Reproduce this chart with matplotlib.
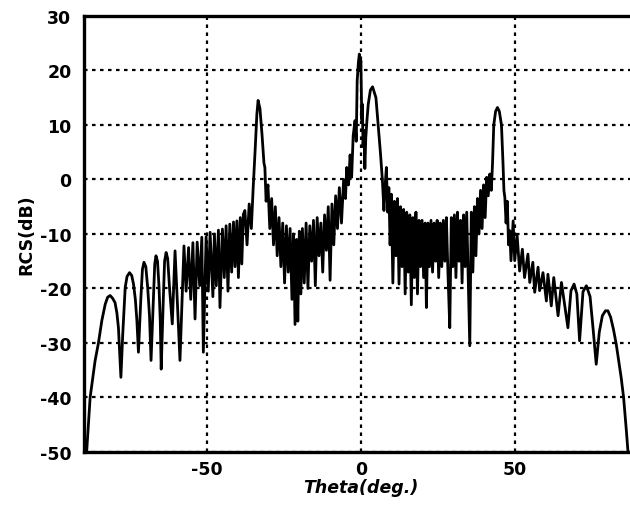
import numpy as np
import matplotlib
matplotlib.use("Agg")
import matplotlib.pyplot as plt

# values (theta in deg, RCS in dB)
# left tail: smooth lobes from -90 to -60
theta_left_tail = [-89.1, -88.5, -88.0, -86.4, -85.3, -84.2, -83.1, -82.3, -81.5, -80.7,
                   -79.9, -79.3, -78.8, -78.0, -77.4, -76.6, -76.0, -75.2, -74.5, -73.9,
                   -73.3, -72.8, -72.3, -71.5, -71.0, -70.5, -69.9, -69.3, -68.7, -68.2,
                   -67.4, -67.0, -66.6, -66.1, -65.6, -65.2, -64.9, -64.2, -63.8, -63.3,
                   -62.8, -62.2, -61.3, -60.4]
rcs_left_tail = [-49.7, -44.3, -40.0, -33.3, -30.0, -25.9, -22.9, -21.6, -21.3, -21.8,
                 -22.6, -24.5, -27.2, -36.3, -28.4, -19.8, -17.8, -17.1, -17.6, -19.2,
                 -22.0, -25.9, -31.7, -21.7, -16.5, -15.2, -16.0, -19.8, -25.0, -33.2,
                 -21.7, -15.5, -14.0, -15.0, -19.8, -26.0, -34.8, -21.7, -15.0, -13.4,
                 -14.5, -19.8, -26.5, -13.1]

# left band: denser lobes from -60 to -38
theta_left_band = [-58.8, -57.5, -56.8, -56.0, -55.3, -54.6, -53.9, -53.2, -52.4, -51.7,
                   -51.2, -50.3, -49.6, -49.0, -48.1, -47.6, -47.0, -46.3, -45.8, -45.0,
                   -44.4, -43.8, -43.2, -42.6, -42.0, -41.4, -40.9, -40.3, -39.8, -39.2,
                   -38.7, -38.2]
rcs_left_band = [-33.2, -12.2, -20.5, -12.5, -22.0, -11.6, -25.6, -11.5, -19.5, -10.6,
                 -31.7, -10.5, -20.5, -9.7, -21.5, -10.0, -19.5, -9.3, -23.5, -9.1,
                 -18.0, -8.5, -20.5, -8.2, -17.0, -7.8, -16.0, -7.6, -18.0, -7.0,
                 -15.5, -6.4]

# sidelobe near -33 deg
theta_lobe_m33 = [-37.7, -37.0, -36.3, -35.6, -35.0, -34.4, -33.8, -33.4, -32.8, -32.1,
                  -31.5, -31.2, -30.8, -30.2, -29.6, -29.0, -28.4, -27.8]
rcs_lobe_m33 = [-5.7, -12.0, -4.5, -9.0, -1.5, 5.0, 12.0, 14.5, 13.0, 8.0,
                3.0, 2.2, -4.0, -1.0, -9.0, -3.5, -12.0, -5.0]

# noisy region between -27 and -7 deg
theta_mid_left = [-27.2, -26.6, -26.0, -25.4, -24.8, -24.2, -23.6, -23.0, -22.4, -21.9,
                  -21.4, -20.9, -20.5, -20.0, -19.5, -19.0, -18.4, -17.8, -17.2, -16.6,
                  -16.0, -15.4, -14.8, -14.2, -13.6, -13.0, -12.4, -11.8, -11.2, -10.6,
                  -10.0, -9.4, -8.8, -8.2, -7.6]
rcs_mid_left = [-14.0, -7.0, -16.0, -8.0, -19.0, -8.5, -17.0, -9.0, -22.0, -10.0,
                -26.6, -11.0, -26.0, -9.5, -21.0, -9.0, -19.0, -8.0, -20.0, -8.5,
                -15.0, -7.5, -19.5, -7.0, -14.0, -8.0, -17.0, -6.5, -13.0, -5.0,
                -18.5, -4.5, -12.0, -3.0, -9.0]

# main lobe at 0 deg and the lobe near 4 deg
theta_main = [-7.0, -6.3, -5.6, -5.0, -4.6, -4.0, -3.5, -3.0, -2.5, -1.9,
              -1.5, -1.2, -0.8, -0.5, -0.2, 0.0, 0.3, 0.5, 0.7, 1.0,
              1.3, 1.6, 2.0, 2.4, 3.1, 3.8, 4.9, 5.6, 6.4, 7.0,
              7.5, 7.9, 8.3, 8.7]
rcs_main = [-1.5, -8.0, 0.0, -3.5, 2.2, -1.0, 4.5, 0.4, 8.0, 10.8,
            7.0, 18.1, 21.5, 23.0, 20.0, 21.8, 11.0, 13.8, 6.0, 9.0,
            2.0, 7.7, 11.0, 13.8, 16.4, 17.0, 15.0, 10.1, 4.6, -0.2,
            -5.7, -1.0, 2.2, -6.0]

# noisy region between 9 and 41 deg
theta_mid_right = [9.1, 9.5, 9.9, 10.4, 10.9, 11.4, 11.9, 12.4, 12.9, 13.4,
                   13.9, 14.4, 14.9, 15.4, 15.9, 16.4, 16.9, 17.4, 17.9, 18.4,
                   18.9, 19.4, 19.9, 20.4, 20.9, 21.3, 21.8, 22.3, 22.8, 23.3,
                   23.8, 24.3, 24.8, 25.3, 25.8, 26.3, 26.8, 27.3, 27.8, 28.3,
                   28.9, 29.4, 29.9, 30.4, 30.9, 31.4, 31.9, 32.4, 32.9, 33.4,
                   33.9, 34.4, 34.9, 35.4, 35.9, 36.4, 36.9, 37.4, 37.9, 38.4,
                   38.9, 39.4, 39.9, 40.4, 40.9, 41.4]
rcs_mid_right = [-1.5, -12.0, -2.7, -19.0, -4.0, -14.0, -3.5, -19.2, -5.0, -16.0,
                 -5.5, -21.0, -6.0, -17.0, -6.5, -23.0, -7.0, -18.0, -6.0, -21.0,
                 -7.5, -16.0, -7.5, -18.0, -8.0, -23.5, -8.0, -16.0, -7.5, -17.0,
                 -8.0, -15.0, -7.5, -18.0, -8.0, -16.0, -7.5, -15.0, -7.0, -17.0,
                 -27.2, -7.0, -16.0, -6.5, -18.0, -6.0, -15.0, -7.5, -19.0, -6.5,
                 -16.0, -6.0, -18.0, -30.5, -6.0, -17.0, -5.0, -14.0, -3.5, -10.0,
                 -2.0, -9.0, -1.0, -7.0, 0.4, -3.0]

# sidelobe near 45 deg
theta_lobe_45 = [41.9, 42.4, 42.8, 43.2, 43.8, 44.4, 45.0, 45.7, 46.2, 46.5,
                 46.8, 47.2, 47.6, 48.0, 48.4, 48.8]
rcs_lobe_45 = [1.0, -2.0, 3.0, 10.0, 12.5, 13.2, 12.5, 10.0, 3.0, -2.0,
               -3.3, -8.0, -4.0, -12.0, -9.4, -14.9]

# right tail: lobes from 49.5 to the end
theta_right_tail = [49.5, 50.0, 50.8, 51.6, 52.5, 53.2, 54.3, 54.9, 55.9, 56.5,
                    57.6, 58.1, 59.2, 60.3, 60.8, 61.9, 62.7, 64.1, 65.2, 67.3,
                    68.3, 69.3, 70.2, 71.1, 72.2, 73.3, 74.5, 75.5, 76.5, 77.5,
                    78.5, 79.5, 80.3, 81.2, 82.1, 83.0, 84.6, 85.4, 86.3, 86.8]
rcs_right_tail = [-7.6, -14.9, -10.3, -16.8, -12.8, -18.0, -13.7, -18.9, -15.2, -20.7,
                  -16.1, -20.4, -17.1, -22.3, -17.4, -23.2, -18.0, -25.0, -18.9, -27.2,
                  -20.4, -19.2, -21.0, -29.6, -20.6, -19.5, -21.5, -27.5, -33.9, -28.0,
                  -25.0, -24.1, -24.1, -25.3, -27.5, -30.2, -36.3, -40.0, -46.1, -49.8]

theta = np.concatenate([theta_left_tail, theta_left_band, theta_lobe_m33, theta_mid_left,
                        theta_main, theta_mid_right, theta_lobe_45, theta_right_tail])
rcs = np.concatenate([rcs_left_tail, rcs_left_band, rcs_lobe_m33, rcs_mid_left,
                      rcs_main, rcs_mid_right, rcs_lobe_45, rcs_right_tail])

y_ticks = [30, 20, 10, 0, -10, -20, -30, -40, -50]
x_ticks = [-50, 0, 50]

plt.rcParams['font.family'] = ['DejaVu Sans']
plt.rcParams['axes.unicode_minus'] = False

fig = plt.figure(figsize=(6.3, 5.1), dpi=100)
# right edge of the axes runs just past the figure, as in the cropped scan
ax = fig.add_axes([0.1333, 0.1118, 0.879, 0.855])

ax.plot(theta, rcs, color='black', linewidth=2.0, solid_joinstyle='round')

ax.set_xlim(-90, 90)
ax.set_ylim(-50, 30)
ax.set_xticks(x_ticks)
ax.set_yticks(y_ticks)
ax.grid(True, color='black', linestyle=(0, (1.6, 2.0)), linewidth=1.6)
ax.tick_params(length=0, labelsize=12.5)
ax.tick_params(axis='y', pad=9)
ax.tick_params(axis='x', pad=6)
for lab in ax.get_xticklabels() + ax.get_yticklabels():
    lab.set_fontweight('bold')
for s in ax.spines.values():
    s.set_linewidth(2.4)

ax.set_xlabel('Theta(deg.)', fontsize=12.5, fontweight='bold', style='italic', labelpad=0)
ax.set_ylabel('RCS(dB)', fontsize=12.5, fontweight='bold', labelpad=3)

fig.savefig('out.png', dpi=100)
